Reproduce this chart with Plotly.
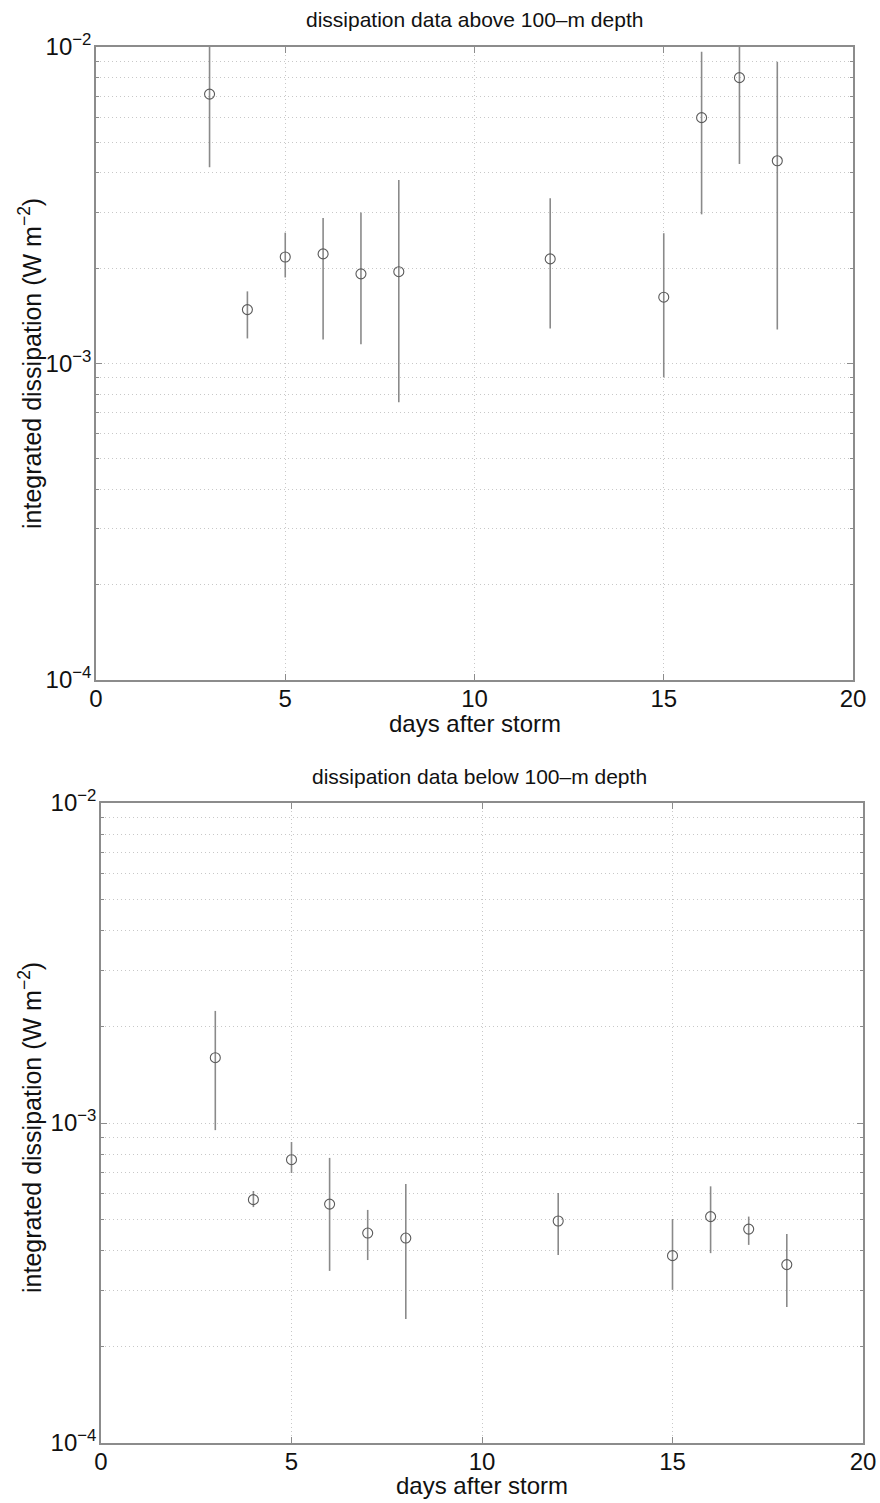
import plotly.graph_objects as go

# ---------------- data ----------------
days = [3, 4, 5, 6, 7, 8, 12, 15, 16, 17, 18]

top_val = [7.1e-3, 1.48e-3, 2.17e-3, 2.22e-3, 1.92e-3, 1.95e-3, 2.14e-3, 1.62e-3, 5.98e-3, 8.0e-3, 4.37e-3]
top_hi = [1.25e-2, 1.69e-3, 2.59e-3, 2.88e-3, 3.0e-3, 3.8e-3, 3.33e-3, 2.58e-3, 9.66e-3, 1.15e-2, 8.99e-3]
top_lo = [4.17e-3, 1.20e-3, 1.87e-3, 1.19e-3, 1.15e-3, 7.55e-4, 1.29e-3, 9.04e-4, 2.96e-3, 4.27e-3, 1.28e-3]

bot_val = [1.60e-3, 5.76e-4, 7.68e-4, 5.58e-4, 4.53e-4, 4.37e-4, 4.94e-4, 3.85e-4, 5.10e-4, 4.66e-4, 3.61e-4]
bot_hi = [2.24e-3, 6.13e-4, 8.72e-4, 7.78e-4, 5.35e-4, 6.45e-4, 6.04e-4, 5.01e-4, 6.34e-4, 5.10e-4, 4.50e-4]
bot_lo = [9.5e-4, 5.46e-4, 6.98e-4, 3.45e-4, 3.73e-4, 2.44e-4, 3.87e-4, 3.01e-4, 3.92e-4, 4.16e-4, 2.66e-4]

x_ticks = [0, 5, 10, 15, 20]
y_major = [1e-4, 1e-3, 1e-2]
y_major_text = ["10<sup>−4</sup>", "10<sup>−3</sup>", "10<sup>−2</sup>"]
y_minor = [m * 10.0 ** e for e in (-4, -3) for m in range(2, 10)]

titles = ["dissipation data above 100–m depth", "dissipation data below 100–m depth"]
x_title = "days after storm"
y_title = "integrated dissipation (W m<sup>−2</sup>)"

# ---------------- figure ----------------
FONT = "Liberation Sans, Arial, Helvetica, sans-serif"
BAR = "#8a8a8a"
FRAME = "#8c8c8c"
GRID = "#c8c8c8"
DOT = "1px,3px"

fig = go.Figure()


def add_series(val, hi, lo, xa, ya):
    fig.add_trace(go.Scatter(
        x=days, y=val, mode="markers",
        marker=dict(symbol="circle-open", size=10, color="#5a5a5a", line=dict(width=1.1)),
        error_y=dict(type="data", symmetric=False,
                     array=[h - v for h, v in zip(hi, val)],
                     arrayminus=[v - l for v, l in zip(val, lo)],
                     width=0, thickness=1.6, color=BAR),
        xaxis=xa, yaxis=ya, showlegend=False, hoverinfo="x+y"))


add_series(top_val, top_hi, top_lo, "x", "y")
add_series(bot_val, bot_hi, bot_lo, "x2", "y2")

W, H = 880, 1503


def px(xp):
    return xp / W


def py(yp):
    return 1 - yp / H


tick_font = dict(family=FONT, size=24, color="#111")

xcommon = dict(range=[0, 20], tickvals=x_ticks, ticks="inside", ticklen=6, tickcolor=FRAME,
               showline=True, mirror="allticks", linecolor=FRAME, linewidth=1.5,
               showgrid=True, gridcolor=GRID, griddash=DOT, gridwidth=1,
               zeroline=False, tickfont=tick_font, automargin=False,
               ticklabelstandoff=-4)
ycommon = dict(type="log", range=[-4, -2], tickvals=y_major, ticktext=y_major_text,
               ticks="inside", ticklen=6, tickcolor=FRAME,
               showline=True, mirror="allticks", linecolor=FRAME, linewidth=1.5,
               showgrid=True, gridcolor=GRID, griddash=DOT, gridwidth=1,
               zeroline=False, tickfont=tick_font, automargin=False,
               ticklabelstandoff=-2,
               minor=dict(tickvals=y_minor, ticks="inside", ticklen=3, tickcolor=FRAME,
                          showgrid=True, gridcolor=GRID, griddash=DOT, gridwidth=1))

fig.update_layout(
    width=W, height=H,
    margin=dict(l=0, r=0, t=0, b=0, autoexpand=False),
    paper_bgcolor="white", plot_bgcolor="white",
    xaxis=dict(domain=[px(96), px(853)], anchor="y", **xcommon),
    yaxis=dict(domain=[py(680), py(47)], anchor="x", **ycommon),
    xaxis2=dict(domain=[px(101), px(863)], anchor="y2", **xcommon),
    yaxis2=dict(domain=[py(1443), py(803)], anchor="x2", **ycommon),
)

title_font = dict(family=FONT, size=21, color="#111")
ann_font = dict(family=FONT, size=24, color="#111")
yt_font = dict(family=FONT, size=25, color="#111")
annotations = [
    dict(text=titles[0], x=px(474.5), y=py(19), xref="paper", yref="paper",
         showarrow=False, font=title_font, yanchor="middle"),
    dict(text=titles[1], x=px(480), y=py(776), xref="paper", yref="paper",
         showarrow=False, font=title_font, yanchor="middle"),
    dict(text=x_title, x=px(474.5), y=py(723), xref="paper", yref="paper",
         showarrow=False, font=ann_font, yanchor="middle"),
    dict(text=x_title, x=px(482), y=py(1485), xref="paper", yref="paper",
         showarrow=False, font=ann_font, yanchor="middle"),
    dict(text=y_title, x=px(30), y=py(364), xref="paper", yref="paper", textangle=-90,
         showarrow=False, font=yt_font, xanchor="center", yanchor="middle"),
    dict(text=y_title, x=px(30), y=py(1128), xref="paper", yref="paper", textangle=-90,
         showarrow=False, font=yt_font, xanchor="center", yanchor="middle"),
]
fig.update_layout(annotations=annotations)

# remove the default 8 px page margin so the figure fills the 880x1503 window exactly
fig.write_html(
    "out.html",
    config={"displayModeBar": False},
    post_script=(
        "document.body.style.margin='0';"
        "document.body.style.overflow='hidden';"
        "document.documentElement.style.overflow='hidden';"
    ),
)
